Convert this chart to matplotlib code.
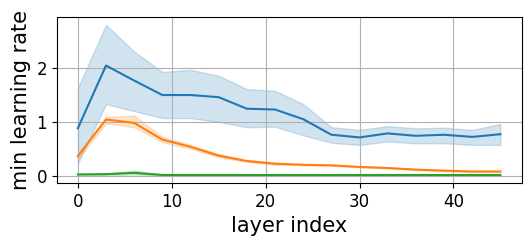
import matplotlib
matplotlib.use("Agg")
import matplotlib.pyplot as plt
import numpy as np

layers = [0, 3, 6, 9, 12, 15, 18, 21, 24, 27, 30, 33, 36, 39, 42, 45]

blue_mean = [0.88, 2.05, 1.77, 1.50, 1.50, 1.46, 1.245, 1.23, 1.05, 0.76, 0.71, 0.785, 0.74, 0.76, 0.72, 0.77]
blue_hi = [1.63, 2.81, 2.31, 1.93, 1.97, 1.86, 1.61, 1.58, 1.33, 0.90, 0.85, 0.92, 0.88, 0.89, 0.85, 0.96]
blue_lo = [0.22, 1.33, 1.20, 1.07, 1.07, 1.00, 0.90, 0.91, 0.75, 0.61, 0.57, 0.635, 0.60, 0.60, 0.57, 0.57]

orange_mean = [0.36, 1.045, 0.98, 0.67, 0.535, 0.37, 0.27, 0.22, 0.20, 0.19, 0.16, 0.14, 0.11, 0.09, 0.075, 0.075]
orange_hi = [0.40, 1.09, 1.12, 0.72, 0.57, 0.40, 0.29, 0.24, 0.21, 0.20, 0.17, 0.15, 0.12, 0.10, 0.085, 0.085]
orange_lo = [0.31, 0.97, 0.90, 0.62, 0.50, 0.34, 0.25, 0.20, 0.19, 0.18, 0.15, 0.13, 0.10, 0.08, 0.065, 0.065]

green_mean = [0.02, 0.025, 0.05, 0.01, 0.01, 0.01, 0.01, 0.01, 0.01, 0.01, 0.01, 0.01, 0.01, 0.01, 0.01, 0.01]
green_hi = [0.03, 0.04, 0.09, 0.02, 0.02, 0.02, 0.015, 0.015, 0.015, 0.015, 0.015, 0.015, 0.015, 0.015, 0.015, 0.015]
green_lo = [0.01, 0.01, 0.02, 0.005, 0.005, 0.005, 0.005, 0.005, 0.005, 0.005, 0.005, 0.005, 0.005, 0.005, 0.005, 0.005]

fig = plt.figure(figsize=(5.3, 2.46), dpi=100)
ax = fig.add_axes([0.107, 0.257, 0.877, 0.673])

series = [
    (blue_mean, blue_lo, blue_hi, "C0"),
    (orange_mean, orange_lo, orange_hi, "C1"),
    (green_mean, green_lo, green_hi, "C2"),
]
for mean, lo, hi, col in series:
    ax.plot(layers, mean, color=col, lw=1.5)
    ax.fill_between(layers, lo, hi, color=col, alpha=0.2, lw=1)

ax.grid(True)
ax.set_xticks([0, 10, 20, 30, 40])
ax.set_yticks([0, 1, 2])
ax.tick_params(labelsize=12)
ax.set_xlabel("layer index", fontsize=15)
ax.set_ylabel("min learning rate", fontsize=15)

fig.savefig("out.png", dpi=100)
